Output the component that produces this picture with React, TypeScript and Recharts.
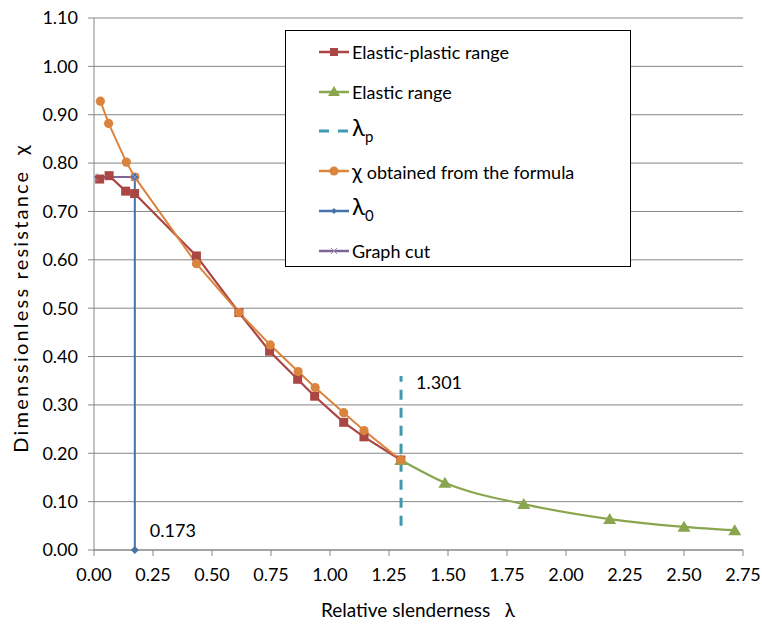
import { LineChart, Line, XAxis, YAxis, CartesianGrid, Label } from "recharts";

// Elastic-plastic range (squares)
const epX = [0.024, 0.064, 0.134, 0.172, 0.434, 0.614, 0.744, 0.863, 0.935, 1.058, 1.144, 1.3];
const epY = [0.767, 0.774, 0.742, 0.737, 0.608, 0.491, 0.411, 0.353, 0.318, 0.264, 0.234, 0.186];

// Elastic range (triangles)
const elX = [1.3, 1.487, 1.821, 2.185, 2.5, 2.715];
const elY = [0.186, 0.139, 0.095, 0.064, 0.048, 0.041];

// chi from the formula (circles)
const fmX = [0.027, 0.062, 0.137, 0.173, 0.434, 0.614, 0.747, 0.865, 0.937, 1.058, 1.144, 1.3];
const fmY = [0.928, 0.882, 0.802, 0.771, 0.592, 0.491, 0.424, 0.369, 0.336, 0.284, 0.247, 0.186];

// lambda_p dashed marker, lambda_0 and graph cut
const lpX = [1.301, 1.301];
const lpY = [0.05, 0.36];
const l0X = [0.173, 0.173];
const l0Y = [0.771, 0];
const cutX = [0, 0.173];
const cutY = [0.771, 0.771];

const xTicks = [0, 0.25, 0.5, 0.75, 1, 1.25, 1.5, 1.75, 2, 2.25, 2.5, 2.75];
const yTicks = [0, 0.1, 0.2, 0.3, 0.4, 0.5, 0.6, 0.7, 0.8, 0.9, 1.0, 1.1];

const pts = (xs: number[], ys: number[]) => xs.map((x, i) => ({ x, y: ys[i] }));

const RED = "#AA4643";
const GREEN = "#89A54E";
const TEAL = "#4198AF";
const ORANGE = "#DB843D";
const BLUE = "#4572A7";
const PURPLE = "#7D6598";
const AXIS = "#868686";
const FONT = "Lato, 'Open Sans', sans-serif";

const square = (color: string) => (p: any) => (
  <rect key={p.key ?? p.index} x={p.cx - 4.5} y={p.cy - 4.5} width={9} height={9} fill={color} />
);
const circle = (color: string) => (p: any) => (
  <circle key={p.key ?? p.index} cx={p.cx} cy={p.cy} r={4.6} fill={color} />
);
const triangle = (color: string) => (p: any) => (
  <path key={p.key ?? p.index} d={`M${p.cx},${p.cy - 6} L${p.cx + 6.5},${p.cy + 5} L${p.cx - 6.5},${p.cy + 5} Z`} fill={color} />
);
const diamond = (color: string) => (p: any) => (
  <path key={p.key ?? p.index} d={`M${p.cx},${p.cy - 4} L${p.cx + 4},${p.cy} L${p.cx},${p.cy + 4} L${p.cx - 4},${p.cy} Z`} fill={color} />
);
const cross = (color: string) => (p: any) => (
  <path key={p.key ?? p.index} d={`M${p.cx - 4},${p.cy - 4} L${p.cx + 4},${p.cy + 4} M${p.cx + 4},${p.cy - 4} L${p.cx - 4},${p.cy + 4}`} stroke={color} strokeWidth={1} fill="none" />
);

function LegendSymbol({ kind, color }: { kind: string; color: string }) {
  return (
    <svg width={32} height={20} style={{ display: "block" }}>
      {kind === "dash" ? (
        <>
          <line x1={1} y1={10} x2={11} y2={10} stroke={color} strokeWidth={3} />
          <line x1={20} y1={10} x2={30} y2={10} stroke={color} strokeWidth={3} />
        </>
      ) : (
        <line x1={1} y1={10} x2={31} y2={10} stroke={color} strokeWidth={2.5} />
      )}
      {kind === "square" && <rect x={12} y={6} width={8} height={8} fill={color} />}
      {kind === "triangle" && <path d="M16,4 L22,14 L10,14 Z" fill={color} />}
      {kind === "circle" && <circle cx={16} cy={10} r={4.5} fill={color} />}
      {kind === "diamond" && <path d="M16,7 L19,10 L16,13 L13,10 Z" fill={color} />}
      {kind === "cross" && <path d="M13,7 L19,13 M19,7 L13,13" stroke="#9C8DBB" strokeWidth={1} />}
    </svg>
  );
}

const legendItems = [
  { kind: "square", color: RED, text: <span>Elastic-plastic range</span> },
  { kind: "triangle", color: GREEN, text: <span>Elastic range</span> },
  {
    kind: "dash",
    color: TEAL,
    text: (
      <span style={{ fontSize: 24 }}>
        λ<sub style={{ fontSize: 15 }}>p</sub>
      </span>
    ),
  },
  {
    kind: "circle",
    color: ORANGE,
    text: (
      <span>
        <span style={{ fontSize: 21 }}>χ</span> obtained from the formula
      </span>
    ),
  },
  {
    kind: "diamond",
    color: BLUE,
    text: (
      <span style={{ fontSize: 24 }}>
        λ<sub style={{ fontSize: 15 }}>0</sub>
      </span>
    ),
  },
  { kind: "cross", color: PURPLE, text: <span>Graph cut</span> },
];

export default function App() {
  return (
    <div style={{ position: "absolute", left: 0, top: 0, width: 762, height: 629, background: "#fff", fontFamily: FONT }}>
      <LineChart width={762} height={629} margin={{ top: 18, right: 19, bottom: 49, left: 0 }}>
        <CartesianGrid vertical={false} stroke={AXIS} strokeWidth={1} />
        <XAxis
          type="number"
          dataKey="x"
          domain={[0, 2.75]}
          ticks={xTicks}
          tickFormatter={(v: number) => v.toFixed(2)}
          tick={{ fill: "#000", fontSize: 18, fontFamily: FONT }}
          stroke={AXIS}
          tickSize={6}
          tickMargin={12}
          height={30}
          allowDataOverflow
        >
          <Label
            content={() => (
              <text x={418} y={617} textAnchor="middle" fontSize={19} fontFamily={FONT} fill="#000" style={{ whiteSpace: "pre" }}>
                {"Relative slenderness   λ"}
              </text>
            )}
          />
        </XAxis>
        <YAxis
          type="number"
          domain={[0, 1.1]}
          ticks={yTicks}
          tickFormatter={(v: number) => v.toFixed(2)}
          tick={{ fill: "#000", fontSize: 18, fontFamily: FONT }}
          stroke={AXIS}
          tickSize={6}
          tickMargin={10}
          width={94}
        >
          <Label
            content={() => (
              <text
                x={28}
                y={298}
                transform="rotate(-90 28 298)"
                textAnchor="middle"
                fontSize={20}
                fontFamily={FONT}
                fill="#000"
                letterSpacing={2.2}
                style={{ whiteSpace: "pre" }}
              >
                {"Dimenssionless resistance  χ"}
              </text>
            )}
          />
        </YAxis>
        <Line
          data={pts(epX, epY)}
          dataKey="y"
          stroke={RED}
          strokeWidth={2.2}
          dot={square(RED)}
          activeDot={false}
          isAnimationActive={false}
        />
        <Line
          data={pts(elX, elY)}
          dataKey="y"
          type="monotone"
          stroke={GREEN}
          strokeWidth={2.2}
          dot={triangle(GREEN)}
          activeDot={false}
          isAnimationActive={false}
        />
        <Line
          data={pts(lpX, lpY)}
          dataKey="y"
          stroke={TEAL}
          strokeWidth={3}
          strokeDasharray="10 8"
          dot={false}
          activeDot={false}
          isAnimationActive={false}
          label={(p: any) =>
            p.index === 1 ? (
              <text key="lp" x={p.x + 15} y={p.y + 13} fontSize={18} fontFamily={FONT} fill="#000">
                1.301
              </text>
            ) : (
              <g key={"lpn" + p.index} />
            )
          }
        />
        <Line
          data={pts(fmX, fmY)}
          dataKey="y"
          stroke={ORANGE}
          strokeWidth={2}
          dot={circle(ORANGE)}
          activeDot={false}
          isAnimationActive={false}
        />
        <Line
          data={pts(l0X, l0Y)}
          dataKey="y"
          stroke={BLUE}
          strokeWidth={2}
          dot={diamond(BLUE)}
          activeDot={false}
          isAnimationActive={false}
          label={(p: any) =>
            p.index === 1 ? (
              <text key="l0" x={p.x + 15} y={p.y - 13} fontSize={18} fontFamily={FONT} fill="#000">
                0.173
              </text>
            ) : (
              <g key={"l0n" + p.index} />
            )
          }
        />
        <Line
          data={pts(cutX, cutY)}
          dataKey="y"
          stroke={PURPLE}
          strokeWidth={2}
          dot={cross("#9C8DBB")}
          activeDot={false}
          isAnimationActive={false}
        />
      </LineChart>
      <div
        style={{
          position: "absolute",
          left: 285,
          top: 30,
          width: 346,
          height: 237,
          border: "1px solid #000",
          background: "#fff",
          boxSizing: "border-box",
        }}
      >
        {legendItems.map((it, i) => (
          <div
            key={i}
            style={{
              position: "absolute",
              left: 32,
              top: 11 + i * 39.7,
              height: 20,
              display: "flex",
              alignItems: "center",
              whiteSpace: "nowrap",
              fontSize: 18,
              color: "#000",
            }}
          >
            <LegendSymbol kind={it.kind} color={it.color} />
            <div style={{ marginLeft: 2, lineHeight: "20px" }}>{it.text}</div>
          </div>
        ))}
      </div>
    </div>
  );
}
